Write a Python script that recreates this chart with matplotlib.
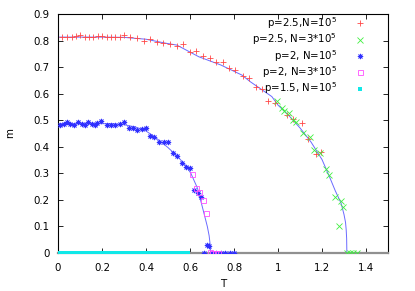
import matplotlib
matplotlib.use("Agg")
import matplotlib.pyplot as plt

# --- data ---

# p=2.5, N=10^5 (red +)
red_T = [0.018, 0.041, 0.063, 0.081, 0.101, 0.123, 0.141, 0.161, 0.180, 0.198,
         0.221, 0.240, 0.261, 0.281, 0.300, 0.329, 0.360, 0.390, 0.420, 0.450,
         0.479, 0.510, 0.539, 0.569, 0.599, 0.629, 0.659, 0.689, 0.719, 0.749,
         0.779, 0.806, 0.839, 0.866, 0.900, 0.929, 0.956, 0.986, 1.042, 1.070,
         1.107, 1.137, 1.171, 1.197]
red_m = [0.815, 0.815, 0.814, 0.817, 0.820, 0.812, 0.815, 0.814, 0.816, 0.818,
         0.812, 0.812, 0.814, 0.814, 0.820, 0.815, 0.811, 0.798, 0.805, 0.796,
         0.792, 0.786, 0.780, 0.786, 0.756, 0.761, 0.742, 0.733, 0.718, 0.718,
         0.698, 0.689, 0.668, 0.658, 0.626, 0.618, 0.574, 0.564, 0.520, 0.505,
         0.491, 0.428, 0.373, 0.382]

# p=2.5, N=3*10^5 (green x)
green_T = [0.997, 1.017, 1.027, 1.051, 1.069, 1.084, 1.114, 1.144, 1.162, 1.189,
           1.216, 1.231, 1.261, 1.276, 1.287, 1.297, 1.312, 1.327, 1.342, 1.357]
green_m = [0.574, 0.545, 0.536, 0.528, 0.501, 0.495, 0.453, 0.436, 0.388, 0.376,
           0.315, 0.294, 0.212, 0.103, 0.197, 0.172, 0.0, 0.0, 0.0, 0.0]

# p=2, N=10^5 (blue asterisks)
blue_T = [0.011, 0.026, 0.041, 0.056, 0.071, 0.091, 0.108, 0.123, 0.138, 0.153,
          0.168, 0.176, 0.195, 0.221, 0.243, 0.258, 0.281, 0.300, 0.321, 0.341,
          0.360, 0.381, 0.401, 0.420, 0.438, 0.461, 0.480, 0.501, 0.521, 0.541,
          0.562, 0.581, 0.601, 0.619, 0.638, 0.649, 0.679, 0.686, 0.664, 0.700,
          0.720, 0.740, 0.760, 0.780, 0.800]
blue_m = [0.482, 0.486, 0.495, 0.486, 0.482, 0.495, 0.486, 0.482, 0.495, 0.486,
          0.482, 0.490, 0.498, 0.482, 0.482, 0.482, 0.486, 0.495, 0.470, 0.470,
          0.463, 0.466, 0.470, 0.441, 0.436, 0.419, 0.419, 0.417, 0.375, 0.365,
          0.338, 0.325, 0.321, 0.237, 0.225, 0.212, 0.030, 0.026, 0.0, 0.0,
          0.0, 0.0, 0.0, 0.0, 0.0]

# p=2, N=3*10^5 (magenta squares)
mag_T = [0.611, 0.629, 0.641, 0.661, 0.671, 0.691, 0.700, 0.712, 0.725]
mag_m = [0.298, 0.246, 0.231, 0.200, 0.152, 0.005, 0.0, 0.0, 0.0]

# p=1.5, N=10^5 (cyan filled squares)
cyan_T = [0.00, 0.01, 0.02, 0.03, 0.04, 0.05, 0.06, 0.07, 0.08, 0.09,
          0.10, 0.11, 0.12, 0.13, 0.14, 0.15, 0.16, 0.17, 0.18, 0.19,
          0.20, 0.21, 0.22, 0.23, 0.24, 0.25, 0.26, 0.27, 0.28, 0.29,
          0.30, 0.31, 0.32, 0.33, 0.34, 0.35, 0.36, 0.37, 0.38, 0.39,
          0.40, 0.41, 0.42, 0.43, 0.44, 0.45, 0.46, 0.47, 0.48, 0.49,
          0.50, 0.51, 0.52, 0.53, 0.54, 0.55, 0.56, 0.57, 0.58, 0.59]
cyan_m = [0.0] * len(cyan_T)

# fitted curves (blue lines)
fit25_T = [0.0, 0.1, 0.2, 0.3, 0.4, 0.49, 0.54, 0.64, 0.74, 0.836, 0.874, 0.972,
           1.0, 1.05, 1.1, 1.15, 1.2, 1.234, 1.26, 1.287, 1.30, 1.307, 1.31,
           1.312, 1.313]
fit25_m = [0.813, 0.813, 0.813, 0.812, 0.805, 0.790, 0.783, 0.739, 0.708, 0.670,
           0.645, 0.589, 0.557, 0.517, 0.471, 0.418, 0.352, 0.287, 0.235, 0.187,
           0.145, 0.115, 0.087, 0.055, 0.0]

fit2_T = [0.0, 0.1, 0.2, 0.243, 0.3, 0.35, 0.393, 0.43, 0.468, 0.5, 0.544, 0.58,
          0.604, 0.634, 0.656, 0.679, 0.687, 0.691, 0.693, 0.694]
fit2_m = [0.487, 0.487, 0.487, 0.487, 0.483, 0.475, 0.463, 0.443, 0.419, 0.397,
          0.363, 0.330, 0.300, 0.244, 0.174, 0.099, 0.065, 0.036, 0.018, 0.0]

labels = ["p=2.5,N=10$^5$", "p=2.5, N=3*10$^5$", "p=2, N=10$^5$",
          "p=2, N=3*10$^5$", "p=1.5, N=10$^5$"]

plt.rcParams["font.family"] = ["DejaVu Sans"]
plt.rcParams["font.size"] = 7.4
plt.rcParams["mathtext.default"] = "regular"

fig = plt.figure(figsize=(4.15, 2.91), dpi=100)
ax = fig.add_axes([58 / 415, 38 / 291, 330 / 415, 239 / 291])

line_col = "#6a6aff"
ax.plot(fit25_T, fit25_m, color=line_col, lw=0.7, zorder=2)
ax.plot(fit2_T, fit2_m, color=line_col, lw=0.7, zorder=2)

ax.plot(red_T, red_m, ls="none", marker="+", ms=4.6, mew=0.6, color="#ff4848",
        label=labels[0], zorder=3)
ax.plot(green_T, green_m, ls="none", marker="x", ms=4.2, mew=0.6, color="#40f040",
        label=labels[1], zorder=3)
ax.plot(blue_T, blue_m, ls="none", marker=(8, 2, 0), ms=3.8, mew=0.6, color="#3030ff",
        label=labels[2], zorder=3)
ax.plot(mag_T, mag_m, ls="none", marker="s", ms=3.6, mew=0.6, mfc="none",
        color="#ff50ff", label=labels[3], zorder=3)
ax.plot(cyan_T, cyan_m, ls="none", marker="s", ms=2.6, mew=0, color="#10e8e8",
        label=labels[4], zorder=3)

ax.set_xlim(0, 1.5)
ax.set_ylim(0, 0.9)
ax.set_xticks([0, 0.2, 0.4, 0.6, 0.8, 1.0, 1.2, 1.4])
ax.set_xticklabels(["0", "0.2", "0.4", "0.6", "0.8", "1", "1.2", "1.4"])
ax.set_yticks([0, 0.1, 0.2, 0.3, 0.4, 0.5, 0.6, 0.7, 0.8, 0.9])
ax.set_yticklabels(["0", "0.1", "0.2", "0.3", "0.4", "0.5", "0.6", "0.7", "0.8", "0.9"])
ax.tick_params(direction="in", top=True, right=True, length=3.5, width=0.6)
ax.tick_params(axis="x", pad=7.5)
ax.tick_params(axis="y", pad=6)

for s in ["left", "top", "right"]:
    ax.spines[s].set_linewidth(0.8)
ax.spines["bottom"].set_color("#909090")
ax.spines["bottom"].set_linewidth(1.6)

ax.set_xlabel("T", labelpad=4)
ax.set_ylabel("m", labelpad=13, rotation=90)

ax.legend(loc="upper right", bbox_to_anchor=(374 / 415, 0.948),
          bbox_transform=fig.transFigure, markerfirst=False, frameon=False,
          borderpad=0, borderaxespad=0, handlelength=2.8, handletextpad=0.8,
          labelspacing=0.05, fontsize=7.4)

fig.savefig("out.png", dpi=100)
